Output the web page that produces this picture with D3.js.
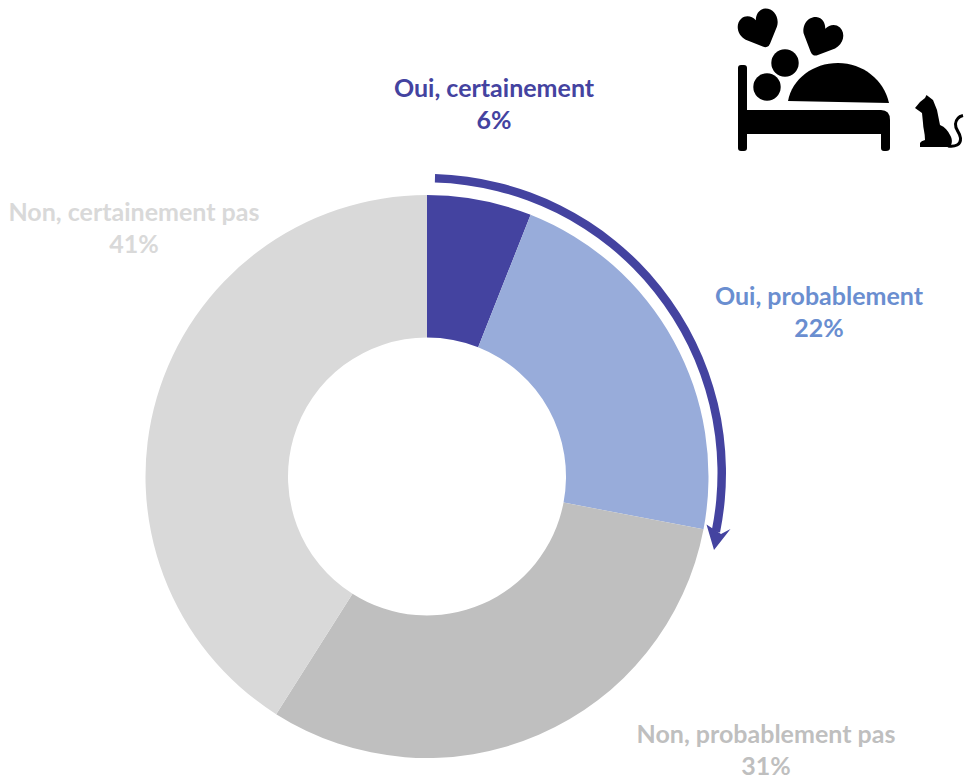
<!DOCTYPE html>
<html><head><meta charset="utf-8">
<script src="https://cdnjs.cloudflare.com/ajax/libs/d3/7.8.5/d3.min.js"></script>
<style>html,body{margin:0;padding:0;background:#fff}svg{display:block}text{font-family:Lato,"Open Sans",sans-serif;font-weight:700;font-size:25px;text-anchor:middle}</style>
</head><body><svg id="c" width="966" height="777"></svg>
<script>
const categories = ["Oui, certainement","Oui, probablement","Non, probablement pas","Non, certainement pas"];
const values = [6,22,31,41];
const sliceColors = ["#4443A0","#98ACDA","#BFBFBF","#D9D9D9"];
const labelColors = ["#4443A0","#6A8ED0","#BFBFBF","#D9D9D9"];
const labelAnchors = [[494,96],[819,304],[766,742],[134,220]];
const lineGap = 32.5;

const svg = d3.select("#c");
const pie = d3.pie().sort(null)(values);
const arc = d3.arc().innerRadius(139).outerRadius(281.5);
svg.append("g").attr("transform","translate(427,476.5)")
  .selectAll("path").data(pie).join("path")
  .attr("d",arc).attr("fill",(d,i)=>sliceColors[i]);

categories.forEach((c,i)=>{
  const t = svg.append("text").attr("fill",labelColors[i]);
  t.append("tspan").attr("x",labelAnchors[i][0]).attr("y",labelAnchors[i][1]+0.5).text(c);
  t.append("tspan").attr("x",labelAnchors[i][0]).attr("y",labelAnchors[i][1]+0.5+lineGap).text(values[i]+"%");
});

const navy = "#4443A0";
svg.append("path").attr("transform","translate(427,473)")
  .attr("d",d3.arc().innerRadius(290.5).outerRadius(299).startAngle(0.027).endAngle(Math.PI*0.5+0.2)())
  .attr("fill",navy);
svg.append("path").attr("d","M706.5,524.5L714,550L730.5,529L721,534Z").attr("fill",navy);

const icon = svg.append("g").attr("fill","#000");
icon.append("rect").attr("x",738).attr("y",65).attr("width",9).attr("height",86).attr("rx",3);
icon.append("path").attr("d","M745,110H881Q890,110 890,120V148Q890,151 886,151H884Q881,151 881,148V134H747V110Z");
icon.append("path").attr("d","M788,101C792,79 813,63 838,63C863,63 884,80 889,103Z");
icon.append("circle").attr("cx",767).attr("cy",87).attr("r",13.7);
icon.append("circle").attr("cx",785).attr("cy",63).attr("r",13.7);
const heart = "M0,21Q-2,21 -4,19L-17,6C-23,-1 -21,-12 -13,-15C-7,-17 -2,-13 0,-8C2,-13 7,-17 13,-15C21,-12 23,-1 17,6L4,19Q2,21 0,21Z";
icon.append("path").attr("d",heart).attr("transform","translate(759,27.5) rotate(-23)");
icon.append("path").attr("d",heart).attr("transform","translate(822,36) rotate(24)");
icon.append("path").attr("d","M920,147V143Q921,141 925,140C925,133 923,128 923,123L922,113L915,108L920,102L925,98L926.5,95L933,100L937,110L940,125C945,127 948,131 950,135C953,140 952,144 950,147Z");
icon.append("path").attr("d","M948,146C955,147 961,145 960.5,138C960,132 955,130 955.5,124C956,119 959,116.5 963,115.5")
  .attr("fill","none").attr("stroke","#000").attr("stroke-width",3);
</script></body></html>
